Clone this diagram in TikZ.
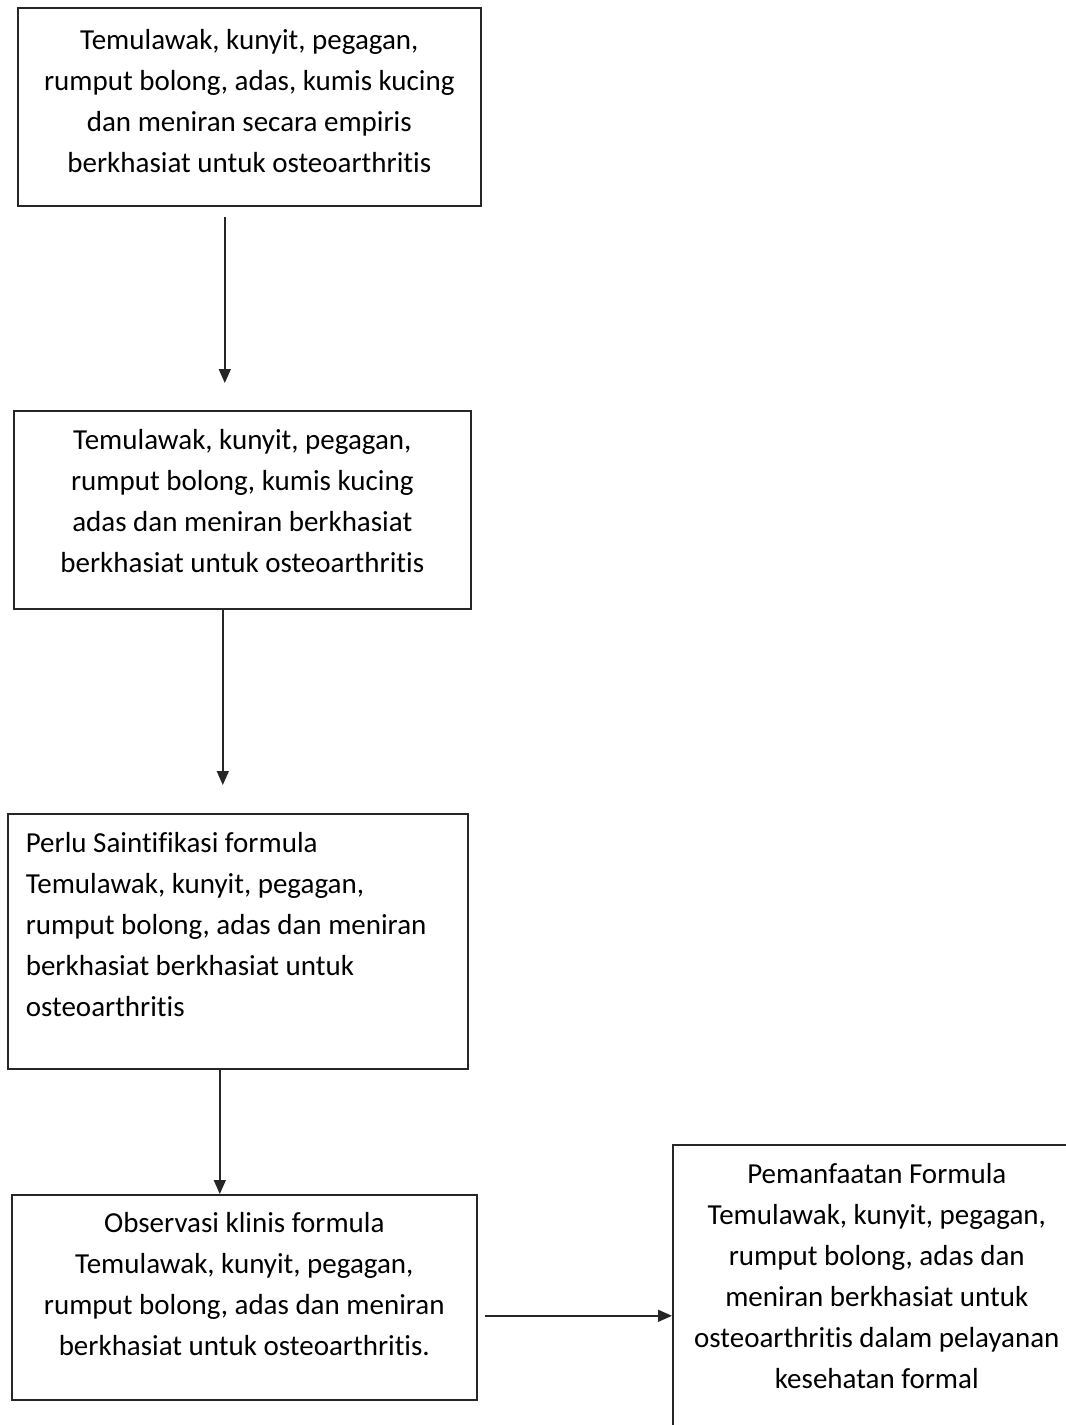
\documentclass[tikz,border=0pt]{standalone}
\usepackage{fontspec}
\setmainfont{Carlito}[Ligatures=NoCommon]
\usetikzlibrary{arrows.meta,positioning,calc}

\begin{document}
\begin{tikzpicture}[
    x=1pt, y=-1pt,
    box/.style={draw=black!85, line width=1.6pt, align=flush center, inner sep=0pt, anchor=north west, text height=0pt, font=\fontsize{29}{41}\selectfont},
    lift/.style={text depth=#1},
    arrow/.style={-{Triangle[length=14pt,width=12pt]}, line width=1.5pt, draw=black!85},
]
    \useasboundingbox (0,0) rectangle (1066,1425);
    \clip (0,0) rectangle (1066,1425);

    \node[box, lift=115pt, minimum width=463pt, minimum height=198pt, text width=450pt] (empiris) at (17,7) {Temulawak, kunyit, pegagan,\\rumput bolong, adas, kumis kucing\\dan meniran secara empiris\\berkhasiat untuk osteoarthritis};
    \node[box, lift=120pt, minimum width=457pt, minimum height=198pt, text width=444pt] (khasiat) at (13,410) {Temulawak, kunyit, pegagan,\\rumput bolong, kumis kucing\\adas dan meniran berkhasiat\\berkhasiat untuk osteoarthritis};
    \node[box, lift=178pt, minimum width=460pt, minimum height=255pt, text width=424pt, align=flush left] (saintifikasi) at (7,813) {Perlu Saintifikasi formula\\Temulawak, kunyit, pegagan,\\rumput bolong, adas dan meniran\\berkhasiat berkhasiat untuk\\osteoarthritis};
    \node[box, lift=130pt, minimum width=465pt, minimum height=205pt, text width=452pt] (observasi) at (11,1194) {Observasi klinis formula\\Temulawak, kunyit, pegagan,\\rumput bolong, adas dan meniran\\berkhasiat untuk osteoarthritis.};
    \node[box, lift=219pt, minimum width=408pt, minimum height=296pt, text width=400pt] (pemanfaatan) at (672,1144) {Pemanfaatan Formula\\Temulawak, kunyit, pegagan,\\rumput bolong, adas dan\\meniran berkhasiat untuk\\osteoarthritis dalam pelayanan\\kesehatan formal};

    \draw[arrow, shorten <=10pt, shorten >=27pt] ([xshift=-24.5pt]empiris.south) -- ([xshift=-24.5pt]empiris.south |- khasiat.north);
    \draw[arrow, shorten >=28pt] ([xshift=-19.5pt]khasiat.south) -- ([xshift=-19.5pt]khasiat.south |- saintifikasi.north);
    \draw[arrow] ([xshift=-18pt]saintifikasi.south) -- ([xshift=-18pt]saintifikasi.south |- observasi.north);
    \draw[arrow, shorten <=7pt] ([yshift=-18.5pt]observasi.east) -- ([yshift=-18.5pt]observasi.east -| pemanfaatan.west);
\end{tikzpicture}
\end{document}
